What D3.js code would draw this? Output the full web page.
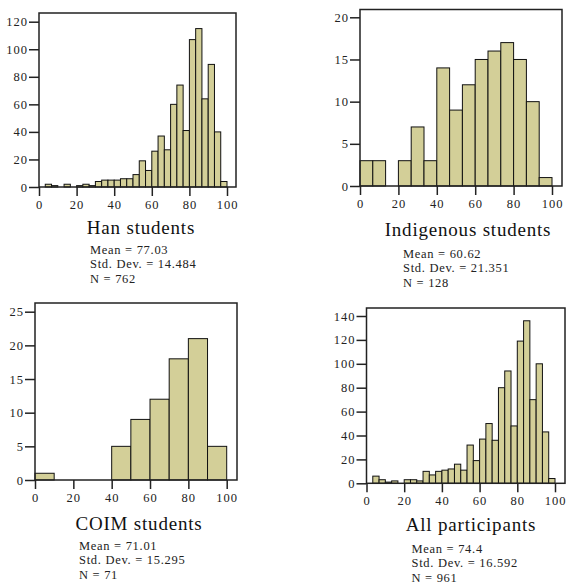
<!DOCTYPE html>
<html>
<head>
<meta charset="utf-8">
<script src="https://cdn.jsdelivr.net/npm/d3@7"></script>
<style>
  body { margin: 0; background: #fff; }
  svg text { font-family: "Liberation Serif", "Times New Roman", serif; fill: #222; }
</style>
</head>
<body>
<svg width="568" height="588"></svg>
<script>
// counts per bin
var hanCounts = [2, 1, 0, 2, 0, 1, 2, 1, 4, 5, 5, 5, 6, 6, 9, 19, 12, 26, 37, 27, 60, 74, 41, 107, 115, 64, 89, 40, 4];
var indigenousCounts = [3, 3, 0, 3, 7, 3, 14, 9, 12, 15, 16, 17, 15, 10, 1];
var coimCounts = [1, 0, 0, 0, 5, 9, 12, 18, 21, 5];
var allCounts = [6, 3, 1, 2, 0, 3, 3, 2, 10, 7, 10, 11, 12, 16, 11, 32, 19, 37, 50, 36, 80, 94, 48, 119, 136, 70, 100, 43, 4];

var xTicks = [0, 20, 40, 60, 80, 100];
var hanYTicks = [0, 20, 40, 60, 80, 100, 120];
var indigenousYTicks = [0, 5, 10, 15, 20];
var coimYTicks = [0, 5, 10, 15, 20, 25];
var allYTicks = [0, 20, 40, 60, 80, 100, 120, 140];

var titles = ["Han students", "Indigenous students", "COIM students", "All participants"];
var stats = [
  ["Mean = 77.03", "Std. Dev. = 14.484", "N = 762"],
  ["Mean = 60.62", "Std. Dev. = 21.351", "N = 128"],
  ["Mean = 71.01", "Std. Dev. = 15.295", "N = 71"],
  ["Mean = 74.4", "Std. Dev. = 16.592", "N = 961"]
];

var svg = d3.select("svg");
var barFill = "#d3cf98";

// layout for each panel (pixel frame + where the top tick sits)
var panels = [
  {counts: hanCounts, start: 100/30, step: 100/30, yTicks: hanYTicks,
   l: 39, r: 236, t: 13, b: 187, x100: 227, yTopPx: 21.7,
   titleX: 141, titleY: 234, statX: 90, statY: 254},
  {counts: indigenousCounts, start: 0, step: 100/15, yTicks: indigenousYTicks,
   l: 360, r: 562, t: 9.5, b: 186, x100: 552, yTopPx: 17.3,
   titleX: 468, titleY: 236, statX: 403, statY: 258},
  {counts: coimCounts, start: 0, step: 10, yTicks: coimYTicks,
   l: 35, r: 237, t: 303, b: 480, x100: 226.7, yTopPx: 311.7,
   titleX: 139, titleY: 530, statX: 79, statY: 550},
  {counts: allCounts, start: 100/30, step: 100/30, yTicks: allYTicks,
   l: 366.5, r: 565, t: 308, b: 483.3, x100: 555, yTopPx: 316,
   titleX: 471, titleY: 531, statX: 411.5, statY: 553}
];

panels.forEach(function(p, i) {
  var g = svg.append("g");

  var x = d3.scaleLinear().domain([0, 100]).range([p.l, p.x100]);
  var yMax = p.yTicks[p.yTicks.length - 1];
  var y = d3.scaleLinear().domain([0, yMax]).range([p.b, p.yTopPx]);

  //bars
  g.selectAll("rect.bar")
    .data(p.counts)
    .enter().append("rect")
    .attr("class", "bar")
    .attr("x", function(d, j) { return x(p.start + j * p.step); })
    .attr("width", function(d, j) { return x(p.start + (j + 1) * p.step) - x(p.start + j * p.step); })
    .attr("y", function(d) { return y(d); })
    .attr("height", function(d) { return y(0) - y(d); })
    .attr("fill", function(d) { return d > 0 ? barFill : "none"; })
    .attr("stroke", function(d) { return d > 0 ? "#111" : "none"; })
    .attr("stroke-width", 1);

  //frame
  g.append("rect")
    .attr("x", p.l).attr("y", p.t)
    .attr("width", p.r - p.l).attr("height", p.b - p.t)
    .attr("fill", "none")
    .attr("stroke", "#222")
    .attr("stroke-width", 1.5);

  var yAxis = g.append("g")
    .attr("transform", "translate(" + p.l + ",0)")
    .call(d3.axisLeft(y).tickValues(p.yTicks).tickSize(10).tickPadding(1));
  var xAxis = g.append("g")
    .attr("transform", "translate(0," + p.b + ")")
    .call(d3.axisBottom(x).tickValues(xTicks).tickSize(9).tickPadding(4));

  [yAxis, xAxis].forEach(function(a) {
    a.attr("font-family", "Liberation Serif").attr("font-size", 12);
    a.select(".domain").remove();
    a.selectAll(".tick line").attr("stroke", "#222").attr("stroke-width", 1.5);
    a.selectAll(".tick text")
      .attr("fill", "#444")
      .style("font-family", "Liberation Serif")
      .style("font-size", "12.5px")
      .style("letter-spacing", "1px");
  });

  g.append("text")
    .attr("x", p.titleX).attr("y", p.titleY)
    .attr("text-anchor", "middle")
    .style("font-size", "19px")
    .style("letter-spacing", "0.8px")
    .style("fill", "#111")
    .text(titles[i]);

  g.selectAll("text.stat")
    .data(stats[i])
    .enter().append("text")
    .attr("class", "stat")
    .attr("x", p.statX)
    .attr("y", function(d, j) { return p.statY + j * 14.3; })
    .style("font-size", "12.5px")
    .style("letter-spacing", "0.7px")
    .text(function(d) { return d; });
});
</script>
</body>
</html>
